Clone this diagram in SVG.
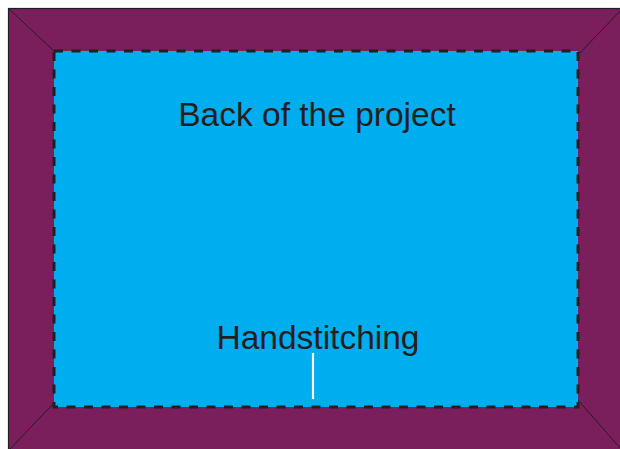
<svg xmlns="http://www.w3.org/2000/svg" width="620" height="449" viewBox="0 0 620 449">
<style>
.txt{font-family:"Liberation Sans",Arial,sans-serif;font-size:33.5px;fill:#231F20;text-anchor:middle}
.diag{stroke:#231F20;stroke-width:1;fill:none}
</style>
<rect width="620" height="449" fill="#ffffff"/>
<g id="frame">
<rect x="8.5" y="8.5" width="620" height="450" fill="#7B1F5C" stroke="#231F20" stroke-width="1.2"/>
</g>
<g id="connectors">
<line class="diag" x1="8" y1="8" x2="54" y2="51"/>
<line class="diag" x1="621" y1="10" x2="578" y2="55"/>
<line class="diag" x1="10" y1="449" x2="54" y2="403"/>
<line class="diag" x1="620" y1="448" x2="578" y2="400"/>
</g>
<g id="back">
<rect x="54" y="51" width="524" height="356" fill="#00ADEE" stroke="#231F20" stroke-width="3" stroke-dasharray="9,8.5"/>
<text class="txt" x="317" y="126">Back of the project</text>
</g>
<g id="handstitching">
<text class="txt" x="318" y="349">Handstitching</text>
<line x1="313" y1="353" x2="313" y2="399" stroke="#ffffff" stroke-width="2.2"/>
</g>
</svg>
